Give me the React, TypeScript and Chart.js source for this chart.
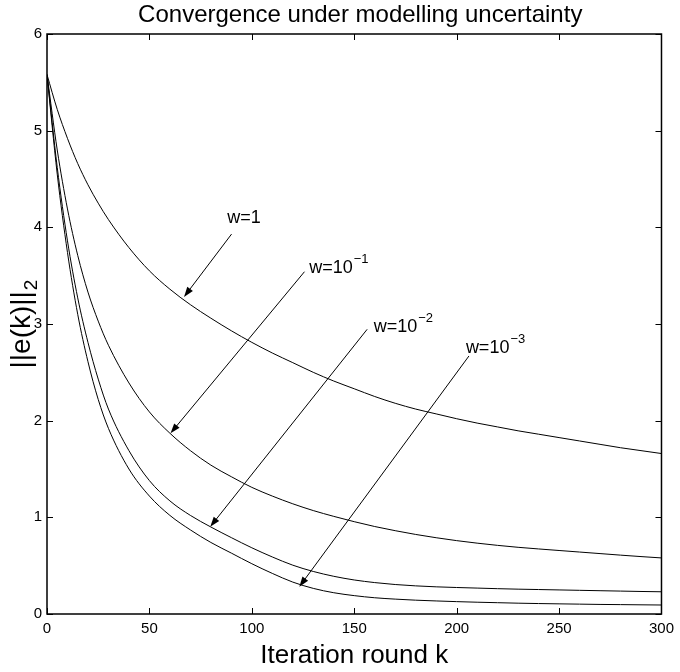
import React, { useEffect, useRef } from 'react';
import { Chart, registerables } from 'chart.js';

Chart.register(...registerables);

// ---- Data ----
const iterations = [0, 5, 10, 15, 20, 25, 30, 40, 50, 60, 70, 80, 90, 100, 110, 120, 130, 140, 150, 160, 170, 180, 190, 200, 210, 220, 230, 240, 250, 260, 270, 280, 290, 300];

const errW1 = [5.58, 5.22, 4.92, 4.66, 4.44, 4.25, 4.08, 3.79, 3.55, 3.36, 3.2, 3.06, 2.93, 2.81, 2.7, 2.6, 2.5, 2.41, 2.33, 2.25, 2.18, 2.12, 2.07, 2.02, 1.975, 1.935, 1.895, 1.86, 1.825, 1.79, 1.755, 1.72, 1.69, 1.66];
const errW1e1 = [5.58, 4.8, 4.19, 3.71, 3.33, 3.03, 2.78, 2.39, 2.09, 1.87, 1.69, 1.54, 1.42, 1.31, 1.22, 1.14, 1.07, 1.01, 0.955, 0.905, 0.862, 0.823, 0.789, 0.759, 0.733, 0.71, 0.69, 0.673, 0.657, 0.641, 0.625, 0.609, 0.594, 0.58];
const errW1e2 = [5.58, 4.62, 3.86, 3.27, 2.81, 2.43, 2.12, 1.69, 1.38, 1.17, 1.02, 0.9, 0.79, 0.685, 0.59, 0.505, 0.44, 0.39, 0.352, 0.325, 0.305, 0.291, 0.281, 0.274, 0.268, 0.262, 0.257, 0.253, 0.249, 0.245, 0.241, 0.237, 0.233, 0.23];
const errW1e3 = [5.58, 4.55, 3.74, 3.1, 2.61, 2.22, 1.92, 1.5, 1.22, 1.02, 0.87, 0.74, 0.63, 0.52, 0.42, 0.33, 0.265, 0.22, 0.19, 0.168, 0.154, 0.143, 0.135, 0.128, 0.122, 0.117, 0.112, 0.108, 0.105, 0.102, 0.099, 0.097, 0.095, 0.093];

const seriesNames = ['w=1', 'w=1e-1', 'w=1e-2', 'w=1e-3'];

// Annotation labels and where they sit (in data units)
const labelBase = ['w=1', 'w=10', 'w=10', 'w=10'];
const labelExp = ['', '\u22121', '\u22122', '\u22123'];
const labelK = [88.0, 128.0, 159.5, 204.5];
const labelV = [4.04, 3.524, 2.92, 2.697];
const arrowFromK = [90.1, 125.7, 156.3, 206.0];
const arrowFromV = [3.93, 3.541, 2.945, 2.669];
const arrowToK = [66.9, 60.3, 79.7, 123.2];
const arrowToV = [3.28, 1.869, 0.903, 0.282];

const xTickValues = [0, 50, 100, 150, 200, 250, 300];
const yTickValues = [0, 1, 2, 3, 4, 5, 6];

const titleText = 'Convergence under modelling uncertainty';
const xTitleText = 'Iteration round k';
const yTitleMain = '||e(k)||';
const yTitleSub = '2';

const FONT = "'Liberation Sans', Arial, Helvetica, sans-serif";

const decorPlugin = {
  id: 'decor',
  afterDraw(chart: any) {
    const ctx = chart.ctx as CanvasRenderingContext2D;
    const area = chart.chartArea;
    const xs = chart.scales.x;
    const ys = chart.scales.y;
    ctx.save();
    // frame
    ctx.strokeStyle = '#000';
    ctx.lineWidth = 1.5;
    ctx.strokeRect(area.left, area.top, area.right - area.left, area.bottom - area.top);
    // inward ticks
    ctx.lineWidth = 1;
    const tl = 6;
    ctx.beginPath();
    for (const v of xTickValues) {
      const px = Math.round(xs.getPixelForValue(v)) + 0.5;
      ctx.moveTo(px, area.bottom);
      ctx.lineTo(px, area.bottom - tl);
      ctx.moveTo(px, area.top);
      ctx.lineTo(px, area.top + tl);
    }
    for (const v of yTickValues) {
      const py = Math.round(ys.getPixelForValue(v)) + 0.5;
      ctx.moveTo(area.left, py);
      ctx.lineTo(area.left + tl, py);
      ctx.moveTo(area.right, py);
      ctx.lineTo(area.right - tl, py);
    }
    ctx.stroke();

    // annotations with arrows
    ctx.fillStyle = '#000';
    for (let i = 0; i < labelBase.length; i++) {
      const x0 = xs.getPixelForValue(arrowFromK[i]);
      const y0 = ys.getPixelForValue(arrowFromV[i]);
      const x1 = xs.getPixelForValue(arrowToK[i]);
      const y1 = ys.getPixelForValue(arrowToV[i]);
      const ang = Math.atan2(y1 - y0, x1 - x0);
      const hl = 10;
      const hw = 3.5;
      ctx.beginPath();
      ctx.moveTo(x0, y0);
      ctx.lineTo(x1 - Math.cos(ang) * hl * 0.8, y1 - Math.sin(ang) * hl * 0.8);
      ctx.stroke();
      ctx.beginPath();
      ctx.moveTo(x1, y1);
      ctx.lineTo(x1 - Math.cos(ang) * hl - Math.sin(ang) * hw, y1 - Math.sin(ang) * hl + Math.cos(ang) * hw);
      ctx.lineTo(x1 - Math.cos(ang) * hl + Math.sin(ang) * hw, y1 - Math.sin(ang) * hl - Math.cos(ang) * hw);
      ctx.closePath();
      ctx.fill();

      const tx = xs.getPixelForValue(labelK[i]);
      const ty = ys.getPixelForValue(labelV[i]);
      ctx.font = `18px ${FONT}`;
      ctx.textAlign = 'left';
      ctx.textBaseline = 'alphabetic';
      ctx.fillText(labelBase[i], tx, ty);
      if (labelExp[i]) {
        const w = ctx.measureText(labelBase[i]).width;
        ctx.font = `13px ${FONT}`;
        ctx.fillText(labelExp[i], tx + w + 1, ty - 10);
      }
    }

    // titles
    const cx = (area.left + area.right) / 2;
    ctx.textAlign = 'center';
    ctx.textBaseline = 'middle';
    ctx.font = `24px ${FONT}`;
    ctx.fillText(titleText, cx + 6, 15);
    ctx.font = `26px ${FONT}`;
    ctx.fillText(xTitleText, cx, 656);

    // y title rotated with subscript
    const cy = (area.top + area.bottom) / 2;
    ctx.translate(22, cy);
    ctx.rotate(-Math.PI / 2);
    ctx.font = `28px ${FONT}`;
    const mw = ctx.measureText(yTitleMain).width;
    ctx.font = `19px ${FONT}`;
    const sw = ctx.measureText(yTitleSub).width;
    const total = mw + sw + 1;
    ctx.textAlign = 'left';
    ctx.textBaseline = 'middle';
    ctx.font = `28px ${FONT}`;
    ctx.fillText(yTitleMain, -total / 2, 0);
    ctx.font = `19px ${FONT}`;
    ctx.fillText(yTitleSub, -total / 2 + mw + 1, 10);
    ctx.restore();
  },
};

export default function App() {
  const canvasRef = useRef<HTMLCanvasElement | null>(null);

  useEffect(() => {
    const canvas = canvasRef.current;
    if (!canvas) return;
    const allSeries = [errW1, errW1e1, errW1e2, errW1e3];
    const chart = new Chart(canvas, {
      type: 'line',
      data: {
        datasets: allSeries.map((s, i) => ({
          label: seriesNames[i],
          data: iterations.map((k, j) => ({ x: k, y: s[j] })),
          borderColor: '#000',
          borderWidth: 1,
          pointRadius: 0,
          fill: false,
          cubicInterpolationMode: 'monotone' as const,
        })),
      },
      options: {
        animation: false,
        responsive: false,
        events: [],
        layout: { padding: { top: 34, right: 13, left: 0, bottom: 0 } },
        plugins: {
          legend: { display: false },
          title: { display: false },
          tooltip: { enabled: false },
        },
        scales: {
          x: {
            type: 'linear',
            min: 0,
            max: 300,
            grid: { display: false, drawTicks: false },
            border: { display: false },
            afterFit: (scale: any) => {
              scale.height = 58;
            },
            afterBuildTicks: (scale: any) => {
              scale.ticks = xTickValues.map((v) => ({ value: v }));
            },
            ticks: {
              color: '#000',
              font: { family: FONT, size: 15 },
              padding: 6,
              maxRotation: 0,
            },
          },
          y: {
            type: 'linear',
            min: 0,
            max: 6,
            grid: { display: false, drawTicks: false },
            border: { display: false },
            afterFit: (scale: any) => {
              scale.width = 47;
            },
            afterBuildTicks: (scale: any) => {
              scale.ticks = yTickValues.map((v) => ({ value: v }));
            },
            ticks: {
              color: '#000',
              font: { family: FONT, size: 15 },
              padding: 5,
            },
          },
        },
      },
      plugins: [decorPlugin],
    });
    return () => chart.destroy();
  }, []);

  return (
    <div style={{ position: 'fixed', left: 0, top: 0, width: 680, height: 672, background: '#fff' }}>
      <canvas ref={canvasRef} width={680} height={672} style={{ display: 'block' }} />
    </div>
  );
}
